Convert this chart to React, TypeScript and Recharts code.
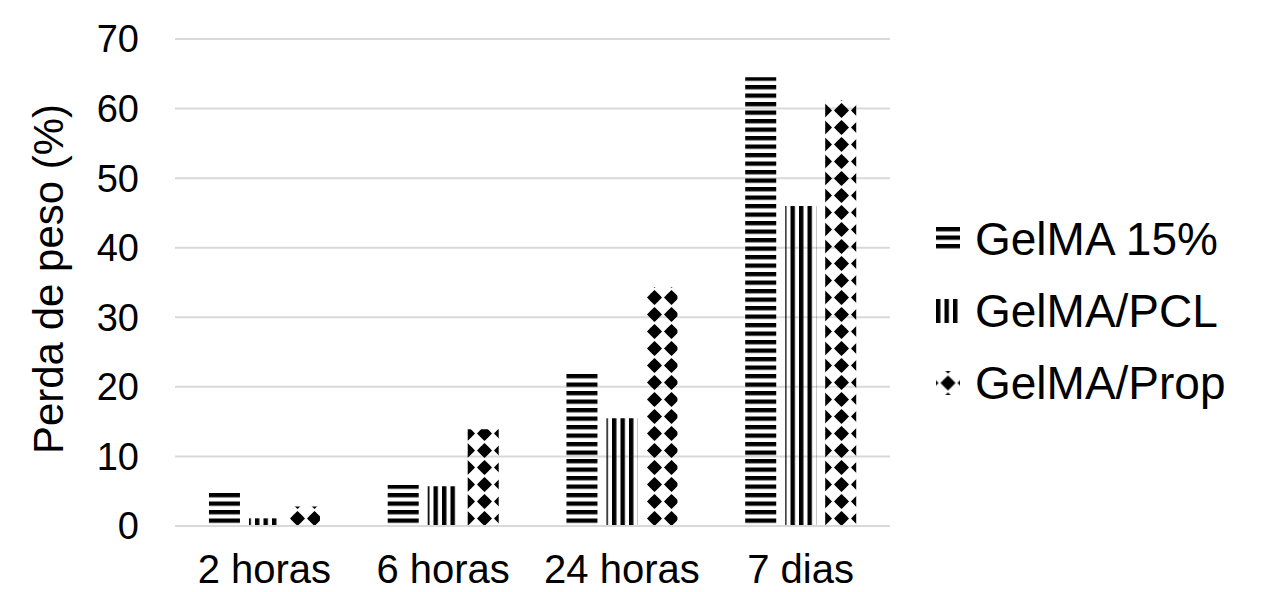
import React from 'react';
import { BarChart, Bar, XAxis, YAxis, CartesianGrid } from 'recharts';

const categories = ['2 horas', '6 horas', '24 horas', '7 dias'];
const gelma15 = [5.1, 5.9, 22.1, 64.5];
const gelmaPcl = [1.1, 5.7, 15.5, 46];
const gelmaProp = [2.8, 13.9, 34.3, 61.2];
const yTicks = [0, 10, 20, 30, 40, 50, 60, 70];

const seriesNames = ['GelMA 15%', 'GelMA/PCL', 'GelMA/Prop'];
const patternIds = ['hstripes', 'vstripes', 'diamonds'];

const FONT = '"Liberation Sans", Arial, sans-serif';

const Patterns = () => (
  <defs>
    <pattern id="hstripes" patternUnits="userSpaceOnUse" width="8" height="8.5">
      <rect x="0" y="0" width="8" height="4.3" fill="#000" />
    </pattern>
    <pattern id="vstripes" patternUnits="userSpaceOnUse" width="8.5" height="8">
      <rect x="0" y="0" width="4.4" height="8" fill="#000" />
    </pattern>
    <pattern id="diamonds" patternUnits="userSpaceOnUse" width="17" height="17">
      <path
        d="M1 8.5 Q4.6 4.6 8.5 1 Q12.4 4.6 16 8.5 Q12.4 12.4 8.5 16 Q4.6 12.4 1 8.5Z"
        fill="#000"
      />
    </pattern>
  </defs>
);

const YLabel = (props: any) => {
  const vb = props.viewBox || {};
  const cx = vb.x + 63;
  const cy = 279;
  return (
    <text
      x={cx}
      y={cy}
      transform={`rotate(-90, ${cx}, ${cy})`}
      textAnchor="middle"
      fill="#000"
      fontSize={42}
      fontFamily={FONT}
    >
      Perda de peso (%)
    </text>
  );
};

const App: React.FC = () => {
  const data = categories.map((c, i) => ({
    name: c,
    g15: gelma15[i],
    pcl: gelmaPcl[i],
    prop: gelmaProp[i],
  }));

  return (
    <div style={{ position: 'absolute', left: 0, top: 0, width: 1267, height: 592, background: '#fff' }}>
      <BarChart
        width={1267}
        height={592}
        data={data}
        margin={{ top: 39, right: 377, bottom: 0, left: 0 }}
        barCategoryGap="19%"
        barGap={9}
      >
        <Patterns />
        <CartesianGrid vertical={false} stroke="#d9d9d9" strokeWidth={2} />
        <XAxis
          dataKey="name"
          height={66}
          axisLine={{ stroke: '#d9d9d9', strokeWidth: 2 }}
          tickLine={false}
          tickMargin={23}
          tick={{ fill: '#000', fontSize: 40, fontFamily: FONT }}
          interval={0}
        />
        <YAxis
          width={175}
          domain={[0, 70]}
          ticks={yTicks}
          axisLine={false}
          tickLine={false}
          tickMargin={30}
          tick={{ fill: '#000', fontSize: 38, fontFamily: FONT }}
          label={<YLabel />}
        />
        <Bar dataKey="g15" fill="url(#hstripes)" isAnimationActive={false} />
        <Bar dataKey="pcl" fill="url(#vstripes)" isAnimationActive={false} />
        <Bar dataKey="prop" fill="url(#diamonds)" isAnimationActive={false} />
      </BarChart>
      <div style={{ position: 'absolute', left: 936, top: 203, fontFamily: FONT, fontSize: 46, color: '#000' }}>
        {seriesNames.map((n, i) => (
          <div key={n} style={{ display: 'flex', alignItems: 'center', height: 72 }}>
            <svg width={24} height={24} viewBox={i === 2 ? '-3.5 -3.5 24 24' : '0 0 24 24'} style={{ marginRight: 15 }}>
              <rect x={-4} y={-4} width={32} height={32} fill={`url(#${patternIds[i]})`} />
            </svg>
            <span>{n}</span>
          </div>
        ))}
      </div>
    </div>
  );
};

export default App;
